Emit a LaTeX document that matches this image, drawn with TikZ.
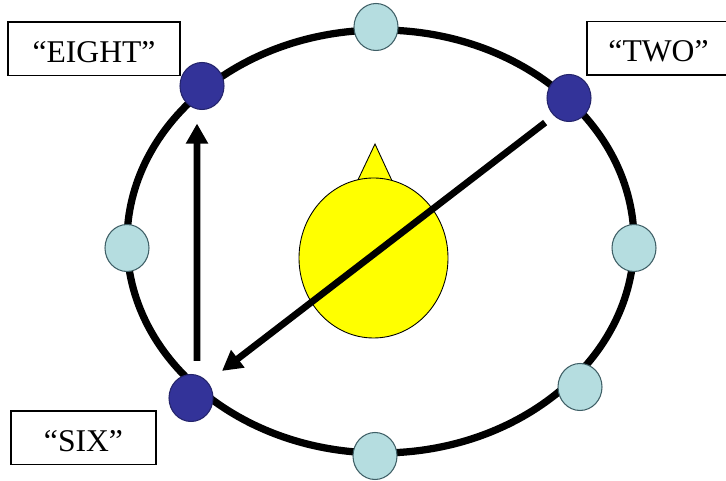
\documentclass[tikz,border=0pt]{standalone}
\usepackage{fontspec}
\setmainfont{Liberation Serif}
\usetikzlibrary{arrows.meta,shapes.geometric}
\definecolor{hourblue}{HTML}{333399}
\definecolor{hourpale}{HTML}{B5DDE0}
\definecolor{hourline}{HTML}{3F5F66}
\definecolor{headyellow}{RGB}{255,255,0}

\begin{document}
\begin{tikzpicture}[
  ringline/.style={draw, ellipse, line width=0.145cm, minimum width=10.14cm, minimum height=8.46cm, inner sep=0pt},
  palemark/.style={draw=hourline, ellipse, fill=hourpale, line width=0.6pt, minimum width=0.88cm, minimum height=0.94cm, inner sep=0pt},
  darkmark/.style={draw=hourblue!70!black, ellipse, fill=hourblue, line width=0.6pt, minimum width=0.88cm, minimum height=0.94cm, inner sep=0pt},
  wordbox/.style={draw, fill=white, line width=0.03cm, minimum height=1.07cm, inner sep=0pt, text height=0.53cm, text depth=0pt, font=\fontsize{18}{21}\selectfont},
  arrow/.style={-{Triangle[length=0.4cm,width=0.42cm]}, line width=0.135cm}
]
\useasboundingbox (0,0) rectangle (14.52,9.62);
\node[ringline] (ring) at (7.61,4.79) {};
\draw[fill=headyellow, line width=0.5pt] (7.12,5.94) -- (7.50,6.74) -- (7.87,5.94) -- cycle;
\node[draw, ellipse, fill=headyellow, line width=0.5pt, minimum width=2.98cm, minimum height=3.2cm, inner sep=0pt] (head) at (7.47,4.46) {};
% hour marks round the ring
\node[palemark] (top) at (7.52,9.08) {};
\node[palemark] (left) at (2.54,4.66) {};
\node[palemark] (right) at (12.68,4.66) {};
\node[palemark] (lowright) at (11.60,1.88) {};
\node[palemark] (bottom) at (7.50,0.50) {};
\node[darkmark] (eight) at (4.04,7.90) {};
\node[darkmark] (two) at (11.38,7.66) {};
\node[darkmark] (six) at (3.82,1.66) {};
\node[wordbox, minimum width=3.44cm] (eightword) at (1.88,8.64) {“EIGHT”};
\node[wordbox, minimum width=2.86cm] (twoword) at (13.17,8.65) {“TWO”};
\node[wordbox, minimum width=2.90cm] (sixword) at (1.67,0.86) {“SIX”};
\draw[arrow, shorten <=0.26cm, shorten >=0.27cm] ([xshift=0.12cm]six.north) -- ([xshift=-0.10cm]eight.south);
\draw[arrow, shorten <=0.2cm, shorten >=0.38cm] ([yshift=-0.03cm]two.south west) -- ([yshift=-0.03cm]six.north east);
\end{tikzpicture}
\end{document}
